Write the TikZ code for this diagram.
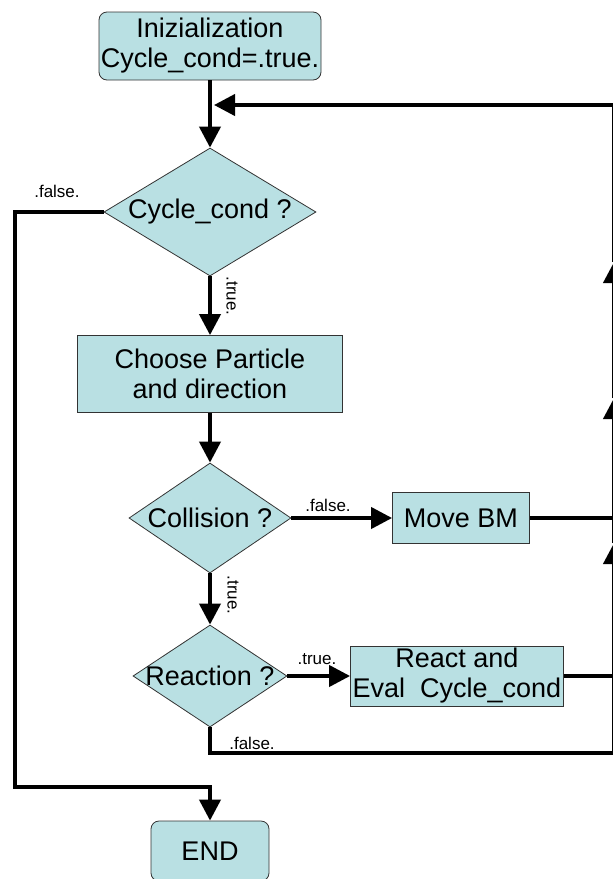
\documentclass[tikz,border=0pt]{standalone}
\usepackage{fontspec}
\setmainfont{Liberation Sans}
\usetikzlibrary{positioning,shapes.geometric,arrows.meta}
\definecolor{boxfill}{RGB}{185,224,227}
\tikzset{flowbox/.style={draw=black!80, fill=boxfill, rectangle, align=center, inner sep=0pt, line width=0.8pt}}

\begin{document}
\begin{tikzpicture}[
    x=1pt, y=-1pt,
    every node/.style={font=\fontsize{27}{30}\selectfont},
    startend/.style={flowbox, rounded corners=8pt},
    decision/.style={diamond, draw=black!80, fill=boxfill, inner sep=0pt,
                     line width=0.8pt},
    tag/.style={font=\fontsize{17}{19}\selectfont, inner sep=0pt},
    line/.style={line width=4pt},
    arrow/.style={line, -{Triangle[length=21pt, width=21pt]}},
  ]
  \useasboundingbox (0,0) rectangle (613,879);
  \clip (0,0) rectangle (613,879);

  %% --- main column ---
  \node[startend, minimum width=222pt, minimum height=68pt] (init) at (210,46)
    {Inizialization\\Cycle\_cond=.true.};
  \node[decision, minimum width=212pt, minimum height=128pt] (cyc) at (210,212)
    {\makebox[0pt]{Cycle\_cond ?}};
  \node[flowbox, minimum width=265pt, minimum height=77pt] (choose) at (210,374)
    {Choose Particle\\and direction};
  \node[decision, minimum width=162pt, minimum height=110pt] (coll) at (210,518)
    {\makebox[0pt]{Collision ?}};
  \node[decision, minimum width=154pt, minimum height=102pt] (reac) at (210,676)
    {\makebox[0pt]{Reaction ?}};
  \node[startend, minimum width=118pt, minimum height=60pt] (fin) at (210,851)
    {END};

  %% --- side boxes ---
  \node[flowbox, minimum width=137pt, minimum height=51pt] (move) at (461,518)
    {Move BM};
  \node[flowbox, minimum width=213pt, minimum height=60pt] (react) at (457,676)
    {React and\\Eval\ \ Cycle\_cond};

  %% --- return column on the right ---
  \coordinate (r1) at (614,753);
  \coordinate (r2) at (614,676);
  \coordinate (r3) at (614,518);
  \coordinate (r4) at (614,105);
  \coordinate (t1) at (614,543);
  \coordinate (t2) at (614,398);
  \coordinate (t3) at (614,262);
  \coordinate (loopin) at (214,105);
  \coordinate (lc) at (14.5,787);

  %% --- connectors ---
  \draw[arrow] (init) -- (cyc);
  \draw[arrow] (cyc) -- (choose);
  \draw[arrow] (choose) -- (coll);
  \draw[arrow] (coll) -- (reac);
  \draw[arrow] (coll) -- (move);
  \draw[arrow] (reac) -- (react);
  \draw[arrow] (cyc.west) -| (lc) -| (fin.north);
  \draw[line] (reac.south) |- (r1) -- (r2);
  \draw[line] (react.east) -- (r2);
  \draw[line] (move.east) -- (r3);
  \draw[arrow] (r2) -- (t1);
  \draw[line] (t1) -- (r3);
  \draw[arrow] (r3) -- (t2);
  \draw[arrow] (t2) -- (t3);
  \draw[arrow] (t3) -- (r4) -- (loopin);

  %% --- branch labels ---
  \node[tag] (f1) at (57,191) {.false.};
  \node[tag, rotate=-90] (v1) at (232,296) {.true.};
  \node[tag] (f2) at (328,505) {.false.};
  \node[tag, rotate=-90] (v2) at (233,595) {.true.};
  \node[tag] (v3) at (317,659) {.true.};
  \node[tag] (f3) at (252,743) {.false.};
\end{tikzpicture}
\end{document}
